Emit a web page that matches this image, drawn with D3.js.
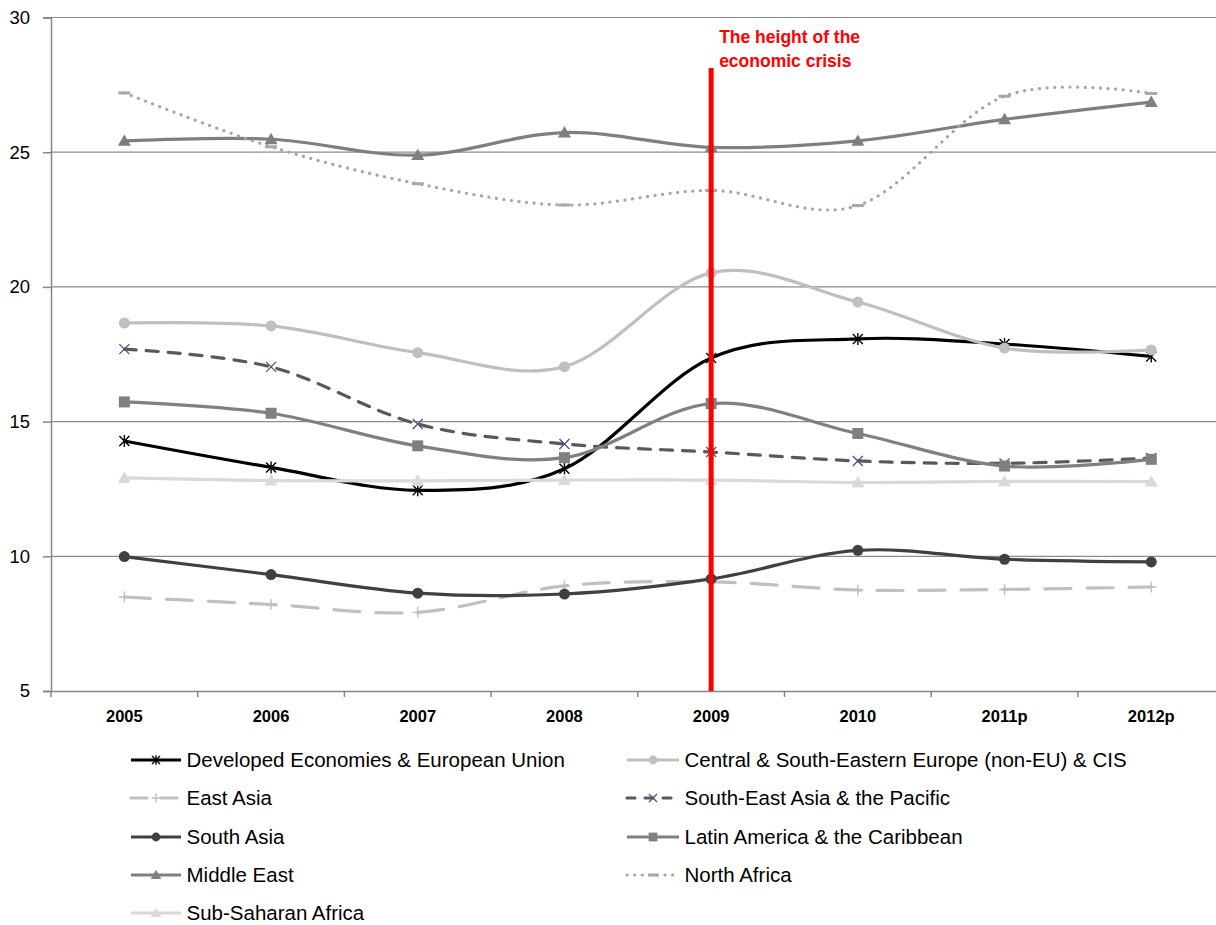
<!DOCTYPE html>
<html><head><meta charset="utf-8">
<script src="https://cdn.jsdelivr.net/npm/d3@7"></script>
<style>body{margin:0;background:#fff}svg{display:block}</style>
</head><body>
<svg id="c" width="1216" height="925"></svg>
<script>
const years = ["2005","2006","2007","2008","2009","2010","2011p","2012p"];
const yTicks = [5,10,15,20,25,30];
const developed = [14.28,13.30,12.45,13.25,17.36,18.07,17.88,17.42];
const centralEurope = [18.66,18.55,17.56,17.04,20.52,19.44,17.73,17.66];
const eastAsia = [8.49,8.21,7.92,8.90,9.05,8.75,8.77,8.86];
const seAsia = [17.69,17.03,14.91,14.17,13.87,13.54,13.45,13.65];
const southAsia = [9.99,9.32,8.63,8.60,9.16,10.22,9.89,9.79];
const latinAmerica = [15.73,15.31,14.10,13.66,15.67,14.56,13.35,13.60];
const middleEast = [25.42,25.48,24.89,25.73,25.18,25.42,26.22,26.86];
const northAfrica = [27.20,25.20,23.83,23.04,23.58,23.02,27.08,27.18];
const subSaharan = [12.91,12.81,12.80,12.83,12.83,12.74,12.78,12.77];
const crisisYear = "2009";
const crisisLabel = ["The height of the","economic crisis"];

const series = [
  {name:"Developed Economies & European Union", values:developed, color:"#000000", dash:null, marker:"star", mcolor:"#000000"},
  {name:"Central & South-Eastern Europe (non-EU) & CIS", values:centralEurope, color:"#bfbfbf", dash:null, marker:"circle", mcolor:"#bfbfbf"},
  {name:"East Asia", values:eastAsia, color:"#c0c0c0", dash:"26,16", marker:"plus", mcolor:"#bfbfbf"},
  {name:"South-East Asia & the Pacific", values:seAsia, color:"#595959", dash:"12,10", marker:"x", mcolor:"#604a7b"},
  {name:"South Asia", values:southAsia, color:"#404040", dash:null, marker:"circle", mcolor:"#404040"},
  {name:"Latin America & the Caribbean", values:latinAmerica, color:"#808080", dash:null, marker:"square", mcolor:"#808080"},
  {name:"Middle East", values:middleEast, color:"#7f7f7f", dash:null, marker:"triangle", mcolor:"#7f7f7f"},
  {name:"North Africa", values:northAfrica, color:"#a6a6a6", dash:"0.1,7.5", marker:"dash", mcolor:"#b0a4a4"},
  {name:"Sub-Saharan Africa", values:subSaharan, color:"#d9d9d9", dash:null, marker:"triangle", mcolor:"#d9d9d9"}
];

const svg = d3.select("#c");
const plotLeft = 51, bandW = 146.7, plotTop = 17.5, plotBottom = 691;
const x = d3.scaleBand().domain(years).range([plotLeft, plotLeft + bandW*years.length]);
const y = d3.scaleLinear().domain([5,30]).range([plotBottom, plotTop]);
const cx = d => x(d) + x.bandwidth()/2;
const font = "Liberation Sans, Arial, sans-serif";

// gridlines
svg.append("g").selectAll("line").data(yTicks.filter(t=>t>5)).join("line")
  .attr("x1", plotLeft).attr("x2", 1216).attr("y1", d=>y(d)).attr("y2", d=>y(d))
  .attr("stroke", "#8c8c8c").attr("stroke-width", 1.2);

// y axis
const yAxis = d3.axisLeft(y).tickValues(yTicks).tickSize(8).tickFormat(d3.format("d"));
const gy = svg.append("g").attr("transform", `translate(${plotLeft},0)`).call(yAxis);
gy.select(".domain").attr("stroke","#868686").attr("stroke-width",1.5);
gy.selectAll(".tick line").attr("stroke","#868686").attr("stroke-width",1.5);
gy.selectAll(".tick text").attr("x",-21).attr("fill","#000").style("font-family",font).style("font-size","18.5px");

// x axis
const xAxis = d3.axisBottom(x).tickSize(0).tickSizeOuter(0);
const gx = svg.append("g").attr("transform", `translate(0,${plotBottom})`).call(xAxis);
gx.select(".domain").attr("stroke","#868686").attr("stroke-width",1.5);
gx.selectAll(".tick text").attr("y",19).attr("fill","#000").style("font-family",font).style("font-size","16.5px").style("font-weight","bold");
gx.append("g").selectAll("line").data(years).join("line")
  .attr("x1", d=>x(d)).attr("x2", d=>x(d)).attr("y1",0).attr("y2",6)
  .attr("stroke","#868686").attr("stroke-width",1.5);

function drawMarker(g, type, px, py, color, s) {
  s = s || 1;
  if (type === "circle") {
    g.append("circle").attr("cx",px).attr("cy",py).attr("r",5.5*s).attr("fill",color);
  } else if (type === "square") {
    g.append("rect").attr("x",px-5.5*s).attr("y",py-5.5*s).attr("width",11*s).attr("height",11*s).attr("fill",color);
  } else if (type === "triangle") {
    const r = 6.5*s;
    g.append("path").attr("d",`M${px},${py-r}L${px+r},${py+r*0.75}L${px-r},${py+r*0.75}Z`).attr("fill",color);
  } else if (type === "star") {
    const r = 5*s;
    g.append("path").attr("d",`M${px-r},${py-r}L${px+r},${py+r}M${px-r},${py+r}L${px+r},${py-r}M${px},${py-r*1.2}L${px},${py+r*1.2}`)
      .attr("stroke",color).attr("stroke-width",1.4).attr("fill","none");
  } else if (type === "x") {
    const r = 5*s;
    g.append("path").attr("d",`M${px-r},${py-r}L${px+r},${py+r}M${px-r},${py+r}L${px+r},${py-r}`)
      .attr("stroke",color).attr("stroke-width",1.3).attr("fill","none");
  } else if (type === "plus") {
    const r = 5.5*s;
    g.append("path").attr("d",`M${px-r},${py}L${px+r},${py}M${px},${py-r}L${px},${py+r}`)
      .attr("stroke",color).attr("stroke-width",1.4).attr("fill","none");
  } else if (type === "dash") {
    const r = 6*s;
    g.append("path").attr("d",`M${px-r},${py}L${px+r},${py}`)
      .attr("stroke",color).attr("stroke-width",3).attr("fill","none");
  }
}

const line = d3.line().x((d,i)=>cx(years[i])).y(d=>y(d)).curve(d3.curveCardinal.tension(0));

const plot = svg.append("g");
series.forEach(s => {
  const g = plot.append("g");
  g.append("path").attr("d", line(s.values)).attr("fill","none")
    .attr("stroke", s.color).attr("stroke-width", 3.2)
    .attr("stroke-dasharray", s.dash).attr("stroke-linecap", s.dash ? "round" : "butt");
  s.values.forEach((v,i) => drawMarker(g, s.marker, cx(years[i]), y(v), s.mcolor));
});

// crisis line
const crisisX = cx(crisisYear);
svg.append("line").attr("x1",crisisX).attr("x2",crisisX).attr("y1",68).attr("y2",plotBottom)
  .attr("stroke","#ff0000").attr("stroke-width",5);
svg.append("text").attr("x",crisisX+8).attr("y",43)
  .style("font-family",font).style("font-size","17.5px").style("font-weight","bold")
  .attr("fill","#ff0000")
  .selectAll("tspan").data(crisisLabel).join("tspan").attr("x",crisisX+8).attr("dy",(d,i)=>i?24:0).text(d=>d);

// legend
const legPos = [[131,760],[627,760],[131,798],[627,798],[131,837],[627,837],[131,875],[627,875],[131,913]];
const lg = svg.append("g");
series.forEach((s,i) => {
  const [lx,ly] = legPos[i];
  const w = i%2===0 ? 50 : 52;
  const g = lg.append("g");
  g.append("line").attr("x1",lx).attr("x2",lx+w).attr("y1",ly).attr("y2",ly)
    .attr("stroke",s.color).attr("stroke-width",3.2)
    .attr("stroke-dasharray", s.dash ? (s.marker==="plus" ? "16,14" : s.marker==="x" ? "8,10" : s.dash) : null)
    .attr("stroke-linecap", s.dash ? "round" : "butt");
  drawMarker(g, s.marker, lx+w/2, ly, s.mcolor, 0.8);
  g.append("text").attr("x", lx + w + 5.5).attr("y", ly).attr("dy","0.35em")
    .style("font-family",font).style("font-size","20.5px").attr("fill","#000").text(s.name);
});
</script>
</body></html>
